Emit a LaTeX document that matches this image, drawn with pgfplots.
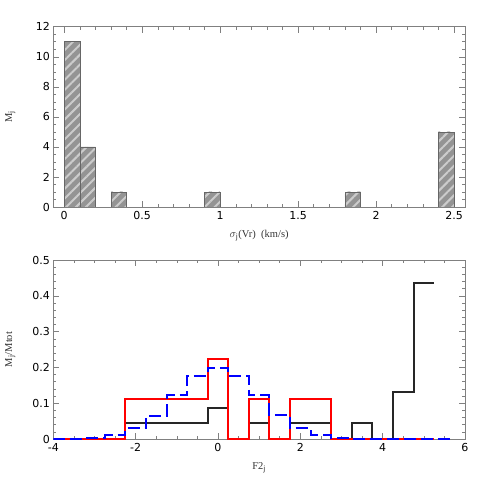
\documentclass[border=0pt]{standalone}
\usepackage{pgfplots}
\pgfplotsset{compat=1.18}
\usepackage{fontspec}
\setmainfont{DejaVu Sans}
\newfontfamily\labfont{Liberation Serif}
\usetikzlibrary{patterns.meta}
\begin{document}
\begin{tikzpicture}
\path[use as bounding box] (0pt,0pt) rectangle (491pt,491pt);
\pgfplotsset{
  every axis/.append style={
    scale only axis,
    axis line style={gray, line width=0.6pt},
    tick style={gray, line width=0.5pt},
    major tick length=6pt,
    minor tick length=3pt,
    tick align=inside,
    tick pos=both,
    font=\fontsize{11}{13}\selectfont,
    /pgf/number format/assume math mode=true,
    label style={font=\labfont\fontsize{10.5}{12}\selectfont, text=black!80},
    xticklabel style={yshift=-1pt},
  },
  hist/.style={ybar interval, draw=black!60, line width=0.5pt, fill=black!42,
    postaction={pattern={Lines[angle=45,distance=7pt,line width=2pt]}, pattern color=black!20}},
}
% top histogram
\begin{axis}[
  at={(53.3pt,284pt)}, anchor=south west,
  width=411.7pt, height=180.3pt,
  xmin=-0.07, xmax=2.57,
  ymin=0, ymax=12,
  xtick={0,0.5,1,1.5,2,2.5},
  xticklabels={0,0.5,1,1.5,2,2.5},
  minor x tick num=4,
  ytick={0,2,4,6,8,10,12},
  minor y tick num=3,
  xlabel={$\sigma_{\mathrm{j}}$(Vr)\ \ (km/s)},
  ylabel={M$_{\mathrm{j}}$},
  xlabel style={at={(axis description cs:0.5,0)}, anchor=center, yshift=-29pt},
  ylabel style={at={(axis description cs:0,0.5)}, anchor=center, yshift=43pt},
]
\addplot[hist] coordinates {(0,11) (0.1,4) (0.2,4)};
\addplot[hist] coordinates {(0.3,1) (0.4,1)};
\addplot[hist] coordinates {(0.9,1) (1.0,1)};
\addplot[hist] coordinates {(1.8,1) (1.9,1)};
\addplot[hist] coordinates {(2.4,5) (2.5,5)};
\end{axis}
% bottom step plots
\begin{axis}[
  at={(53.3pt,52pt)}, anchor=south west,
  width=411.7pt, height=179pt,
  xmin=-4, xmax=6,
  ymin=0, ymax=0.5,
  xtick={-4,-2,0,2,4,6},
  minor x tick num=3,
  ytick={0,0.1,0.2,0.3,0.4,0.5},
  yticklabels={0,0.1,0.2,0.3,0.4,0.5},
  minor y tick num=4,
  xlabel={F2$_{\mathrm{j}}$},
  ylabel={M$_{\mathrm{j}}$/Mtot},
  xlabel style={at={(axis description cs:0.5,0)}, anchor=center, yshift=-29pt},
  ylabel style={at={(axis description cs:0,0.5)}, anchor=center, yshift=43pt},
]
\addplot[const plot mark left, draw=black!85, line width=2pt] coordinates {
 (-3.75,0) (-2.25,0.04348) (-0.25,0.08696) (0.25,0) (0.75,0.04348) (1.25,0)
 (1.75,0.04348) (2.75,0) (3.25,0.04348) (3.75,0) (4.25,0.13043) (4.75,0.43478) (5.25,0.43478)};
\addplot[const plot mark left, draw=red, line width=2pt] coordinates {
 (-3.75,0) (-2.25,0.1111) (-0.25,0.2222) (0.25,0) (0.75,0.1111) (1.25,0)
 (1.75,0.1111) (2.75,0) (5.25,0)};
\addplot[const plot mark left, draw=blue, line width=2pt, dash pattern=on 12pt off 5pt] coordinates {
 (-4,0) (-3.25,0.003) (-2.75,0.01) (-2.25,0.03) (-1.75,0.065) (-1.25,0.122)
 (-0.75,0.177) (-0.25,0.199) (0.25,0.177) (0.75,0.122) (1.25,0.067) (1.75,0.03)
 (2.25,0.012) (2.75,0.004) (3.25,0) (5.75,0)};
\end{axis}
\end{tikzpicture}
\end{document}
